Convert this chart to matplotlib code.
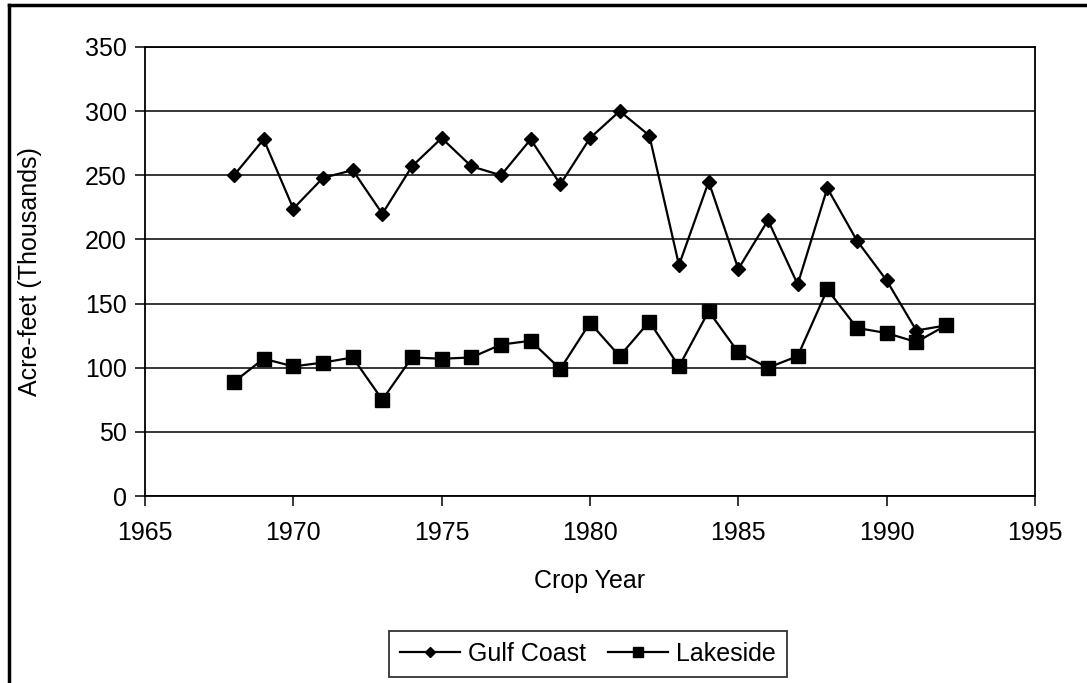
import matplotlib
matplotlib.use("Agg")
import matplotlib.pyplot as plt
from matplotlib.lines import Line2D

plt.rcParams['font.family'] = ['Liberation Sans', 'DejaVu Sans']

# data (thousands of acre-feet)
years = list(range(1968, 1993))
gulf_coast = [250, 278, 224, 248, 254, 220, 257, 279, 257, 250, 278, 243, 279,
              300, 281, 180, 245, 177, 215, 165, 240, 199, 168, 129, 133]
lakeside = [89, 107, 101, 104, 108, 75, 108, 107, 108, 118, 121, 99, 135,
            109, 136, 101, 144, 112, 100, 109, 161, 131, 127, 120, 133]

yticks = [0, 50, 100, 150, 200, 250, 300, 350]
xticks = [1965, 1970, 1975, 1980, 1985, 1990, 1995]

W, H = 1087, 683
fig = plt.figure(figsize=(W / 100, H / 100), dpi=100)
ax = fig.add_axes([145 / W, 1 - 496 / H, (1035 - 145) / W, (496 - 47) / H])

ax.plot(years, gulf_coast, '-', color='black', lw=1.6, marker='D', ms=7.5,
        label='Gulf Coast')
ax.plot(years, lakeside, '-', color='black', lw=1.6, marker='s', ms=9.5,
        label='Lakeside')

ax.set_xlim(1965, 1995)
ax.set_ylim(0, 350)
ax.set_xticks(xticks)
ax.set_yticks(yticks)
ax.yaxis.grid(True, color='black', lw=1.1)
ax.set_axisbelow(True)
for s in ax.spines.values():
    s.set_color('black')
    s.set_linewidth(1.3)
ax.tick_params(direction='out', length=7, width=1.1, labelsize=18, colors='black', pad=6)
ax.tick_params(axis='x', pad=11)

fig.text(590 / W, 1 - 581 / H, 'Crop Year', fontsize=18, ha='center', va='center')
fig.text(30 / W, 1 - 272 / H, 'Acre-feet (Thousands)', fontsize=18, ha='center',
         va='center', rotation=90)

leg = ax.legend(loc='center', bbox_to_anchor=(588 / W, 1 - 654 / H),
                bbox_transform=fig.transFigure, ncol=2, fontsize=18,
                frameon=True, fancybox=False, edgecolor='black', markerscale=0.7,
                handlelength=2.4, handletextpad=0.3, columnspacing=0.9,
                borderpad=0.45)
leg.get_frame().set_linewidth(1.3)

# outer chart frame (left and top edges visible)
fig.add_artist(Line2D([9 / W, 9 / W], [0, 1 - 5 / H], color='black', lw=2.5,
                      transform=fig.transFigure))
fig.add_artist(Line2D([9 / W, 1], [1 - 5 / H, 1 - 5 / H], color='black', lw=2.5,
                      transform=fig.transFigure))

fig.savefig('out.png', dpi=100)
